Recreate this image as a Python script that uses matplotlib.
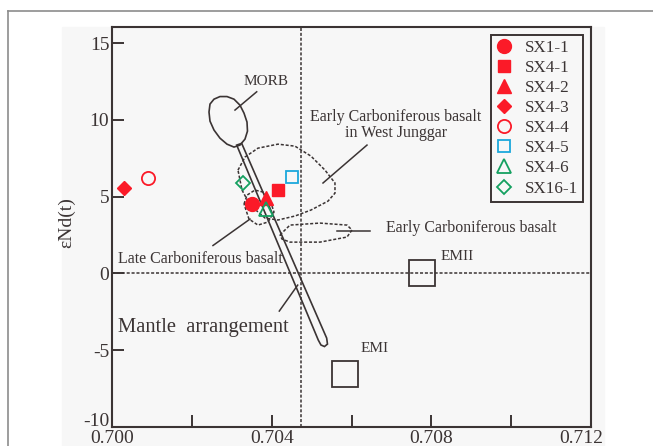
import matplotlib
matplotlib.use('Agg')
import matplotlib.pyplot as plt
from matplotlib.patches import Polygon, Rectangle
from matplotlib.lines import Line2D
from matplotlib.transforms import ScaledTranslation

plt.rcParams['font.family'] = ['Liberation Serif', 'DejaVu Serif']

# samples: (87Sr/86Sr)i , eNd(t)
samples = ['SX1-1', 'SX4-1', 'SX4-2', 'SX4-3', 'SX4-4', 'SX4-5', 'SX4-6', 'SX16-1']
sr_i = [0.70350, 0.70416, 0.70387, 0.70030, 0.70091, 0.70451, 0.70387, 0.70328]
end_t = [4.51, 5.45, 4.91, 5.58, 6.21, 6.28, 4.21, 5.89]

# fields
morb_x = [0.702430, 0.702455, 0.702555, 0.702705, 0.702881, 0.703056, 0.703206, 0.703307,
          0.703382, 0.703394, 0.703332, 0.703206, 0.703056, 0.702881, 0.702705, 0.702555,
          0.702455]
morb_y = [10.51, 11.03, 11.35, 11.52, 11.52, 11.35, 10.96, 10.44, 9.86, 9.27, 8.75, 8.36,
          8.23, 8.42, 8.81, 9.34, 9.92]

mantle_x = [0.703124, 0.705168, 0.705235, 0.705323, 0.705398, 0.705378, 0.703249]
mantle_y = [8.36, -4.34, -4.66, -4.76, -4.60, -4.21, 8.47]

wj_x = [0.703156, 0.703332, 0.703657, 0.704158, 0.704584, 0.704985, 0.705336, 0.705586,
        0.705586, 0.705411, 0.704985, 0.704584, 0.704158, 0.703833, 0.703457, 0.703257]
wj_y = [6.73, 7.58, 8.16, 8.42, 8.29, 7.64, 6.73, 5.89, 5.23, 4.71, 4.13, 3.74, 3.48,
        3.61, 4.46, 5.43]

late_x = [0.703307, 0.703382, 0.703582, 0.703783, 0.703958, 0.704058, 0.703908,
          0.703657, 0.703432]
late_y = [4.52, 5.10, 5.43, 5.30, 4.78, 4.00, 3.35, 3.15, 3.54]

early_x = [0.704208, 0.704459, 0.705210, 0.705887, 0.706012, 0.705887, 0.705210,
           0.704459, 0.704259]
early_y = [2.51, 3.15, 3.28, 3.15, 2.83, 2.37, 2.04, 2.04, 2.24]

em_names = ['EMI', 'EMII']
em_x = [0.70583, 0.70776]
em_y = [-6.53, 0.0]

dark = '#3b3434'
red = '#fb1a28'
blue = '#1ba8dc'
green = '#14a060'

styles = [
    dict(marker='o', color=red, mfc=red, ms=10),
    dict(marker='s', color=red, mfc=red, ms=9),
    dict(marker='^', color=red, mfc=red, ms=10.5),
    dict(marker='D', color=red, mfc=red, ms=7.5),
    dict(marker='o', color=red, mfc='none', ms=9.5, mew=1.3),
    dict(marker='s', color=blue, mfc='none', ms=9, mew=1.3),
    dict(marker='^', color=green, mfc='none', ms=10.5, mew=1.3),
    dict(marker='D', color=green, mfc='none', ms=7.5, mew=1.3),
]

fig = plt.figure(figsize=(6.53, 4.46), dpi=100)
fig.patches.append(Rectangle((62 / 653, 0), (604 - 62) / 653, (446 - 27) / 446,
                             transform=fig.transFigure, color='#f7f7f7', zorder=-1))
fig.add_artist(Line2D([8 / 653, 1], [1 - 11 / 446, 1 - 11 / 446],
                      transform=fig.transFigure, color='#8c8c8c', lw=1.2))
fig.add_artist(Line2D([8 / 653, 8 / 653], [0, 1 - 11 / 446],
                      transform=fig.transFigure, color='#8c8c8c', lw=1.2))

ax = fig.add_axes([112 / 653, 19 / 446, 479 / 653, 400 / 446])
ax.set_facecolor('none')
ax.set_xlim(0.700, 0.712)
ax.set_ylim(-10, 16.05)

ax.axhline(0, color=dark, lw=1.1, ls=(0, (2, 1.2)), zorder=1)
ax.axvline(0.70473, color=dark, lw=1.1, ls=(0, (2, 1.2)), zorder=1)

ax.add_patch(Polygon(list(zip(morb_x, morb_y)), closed=True, fill=False, ec=dark, lw=1.2))
ax.add_patch(Polygon(list(zip(mantle_x, mantle_y)), closed=True, fill=False, ec=dark, lw=1.2))
for fx, fy in [(wj_x, wj_y), (late_x, late_y), (early_x, early_y)]:
    ax.add_patch(Polygon(list(zip(fx, fy)), closed=True, fill=False, ec=dark,
                         lw=1.1, ls=(0, (2, 1.2))))

for nm, x, y in zip(em_names, em_x, em_y):
    ax.plot(x, y, marker='s', ms=19, mfc='none', mec=dark, mew=1.3, ls='none')

# leaders
ax.plot([0.703625, 0.703081], [11.83, 10.64], color=dark, lw=1.1)
ax.plot([0.706388, 0.705286], [8.36, 5.89], color=dark, lw=1.1)
ax.plot([0.705636, 0.706463], [2.78, 2.78], color=dark, lw=1.1)
ax.plot([0.702530, 0.703457], [1.82, 3.54], color=dark, lw=1.1)
ax.plot([0.704191, 0.704652], [-2.45, -0.76], color=dark, lw=1.1)

tc = '#3b3434'
ax.text(0.703858, 12.53, 'MORB', ha='center', va='center', fontsize=11, color=tc)
ax.text(0.707114, 9.66, 'Early Carboniferous basalt\nin West Junggar', ha='center',
        va='center', fontsize=11.5, color=tc, linespacing=1.0)
ax.text(0.706864, 2.96, 'Early Carboniferous basalt', ha='left', va='center',
        fontsize=11.4, color=tc)
ax.text(0.700150, 0.92, 'Late Carboniferous basalt', ha='left', va='center',
        fontsize=11.5, color=tc)
ax.text(0.700150, -3.55, 'Mantle  arrangement', ha='left', va='center',
        fontsize=14.8, color=tc)
ax.text(0.708241, 1.13, 'EMII', ha='left', va='center', fontsize=11, color=tc)
ax.text(0.706230, -4.92, 'EMI', ha='left', va='center', fontsize=11, color=tc)

for nm, x, y, st in zip(samples, sr_i, end_t, styles):
    ax.plot(x, y, ls='none', label=nm, zorder=5, **st)

leg = ax.legend(loc='upper right', fontsize=12.3, frameon=True, fancybox=False,
                edgecolor=dark, framealpha=1, facecolor='#f7f7f7', borderaxespad=0.45,
                labelspacing=0.24, handlelength=1.0, handletextpad=0.7, borderpad=0.3)
leg.get_frame().set_linewidth(1.4)
for t in leg.get_texts():
    t.set_color(tc)

ax.set_xticks([0.700, 0.702, 0.704, 0.706, 0.708, 0.710, 0.712])
ax.set_xticklabels(['0.700', '', '0.704', '', '0.708', '', '0.712'])
ax.set_yticks([-10, -5, 0, 5, 10, 15])
ax.set_yticklabels(['-10', '-5', '0', '5', '10', '15'])
ax.tick_params(direction='in', length=8.5, width=1.4, colors=dark, labelsize=14,
               pad=2, labelcolor=tc)
for s in ax.spines.values():
    s.set_color(dark)
    s.set_linewidth(1.5)

# the corner labels sit a little off their ticks in the original
lab = ax.get_yticklabels()[0]
lab.set_transform(lab.get_transform() + ScaledTranslation(0, 0.08, fig.dpi_scale_trans))
lab = ax.get_xticklabels()[-1]
lab.set_transform(lab.get_transform() + ScaledTranslation(-0.1, 0, fig.dpi_scale_trans))

ax.set_ylabel('εNd(t)', fontsize=14, color=tc)
ax.yaxis.set_label_coords(-0.076, 0.51)

fig.savefig('out.png', dpi=100)
